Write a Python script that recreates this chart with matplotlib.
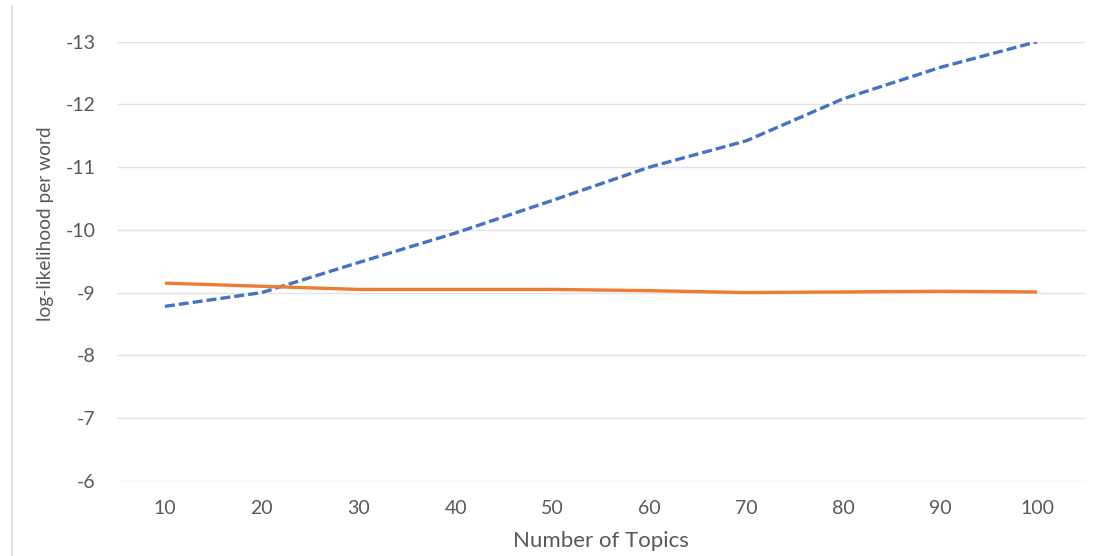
import matplotlib
matplotlib.use("Agg")
import matplotlib.pyplot as plt
from matplotlib.lines import Line2D

topics = [10, 20, 30, 40, 50, 60, 70, 80, 90, 100]
series_dashed = [-8.78, -9.0, -9.48, -9.95, -10.47, -11.0, -11.42, -12.09, -12.59, -13.0]
series_solid = [-9.15, -9.10, -9.05, -9.05, -9.05, -9.03, -9.0, -9.01, -9.02, -9.01]
y_ticks = [-6, -7, -8, -9, -10, -11, -12, -13]

plt.rcParams['font.family'] = ['Lato', 'DejaVu Sans']

W, H = 1094, 556
fig = plt.figure(figsize=(W / 100, H / 100), dpi=100)
left, right, top, bottom = 116.5, 1085.5, 41.7, 480.7
ax = fig.add_axes([left / W, 1 - bottom / H, (right - left) / W, (bottom - top) / H])

pos = list(range(len(topics)))
ax.plot(pos, series_dashed, color='#4472C4', lw=2.4, linestyle=(0, (3, 1.2)),
        dash_capstyle='butt')
ax.plot(pos, series_solid, color='#ED7D31', lw=2.4, solid_capstyle='butt')

ax.set_xlim(-0.5, len(topics) - 0.5)
ax.set_ylim(-6, -13)
ax.set_xticks(pos)
ax.set_xticklabels([str(t) for t in topics])
ax.set_yticks(y_ticks)
ax.set_yticklabels([str(v) for v in y_ticks])

for s in ax.spines.values():
    s.set_visible(False)
ax.grid(axis='y', color='#E3E3E3', lw=1)
ax.set_axisbelow(True)
ax.tick_params(axis='both', length=0, labelsize=14, colors='#595959')
ax.tick_params(axis='x', pad=14)
ax.tick_params(axis='y', pad=15)

fig.text(601 / W, 1 - 541 / H, 'Number of Topics', fontsize=16, color='#595959',
         ha='center', va='center')
fig.text(46 / W, 1 - 224 / H, 'log-likelihood per word', rotation=90, fontsize=13.8,
         color='#595959', ha='center', va='center')

fig.add_artist(Line2D([12 / W, 12 / W], [0, 1 - 6 / H], color='#DDDDDD', lw=1.2,
                      transform=fig.transFigure))

fig.savefig('out.png', dpi=100, facecolor='white')
